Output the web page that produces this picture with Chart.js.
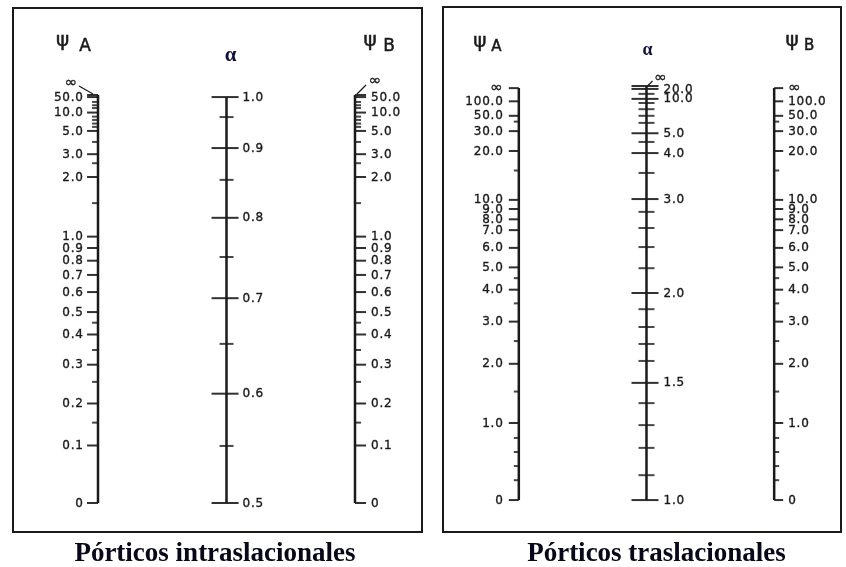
<!DOCTYPE html>
<html>
<head>
<meta charset="utf-8">
<script src="https://cdn.jsdelivr.net/npm/chart.js@4.4.1/dist/chart.umd.min.js"></script>
<style>
    html, body { margin: 0; padding: 0; background: #fff; }
    #wrap { position: relative; width: 846px; height: 567px; overflow: hidden; }
    canvas { position: absolute; top: 0; }
    #braced { left: 0; }
    #sway { left: 433px; }
</style>
</head>
<body>
<div id="wrap">
    <canvas id="braced" width="433" height="567"></canvas>
    <canvas id="sway" width="413" height="567"></canvas>
</div>
<script>
// Nomograph scales. "At" = place of each tick along its axis, 0 (bottom) .. 100 (top end)

// Pórticos intraslacionales
const psiBracedLabels = ['∞', '50.0', '10.0', '5.0', '3.0', '2.0', '1.0', '0.9', '0.8', '0.7', '0.6', '0.5', '0.4', '0.3', '0.2', '0.1', '0'];
const psiBracedAt = [100, 99.5, 95.7, 91.2, 85.5, 79.9, 65.3, 62.5, 59.4, 55.9, 51.7, 46.8, 41.3, 33.9, 24.4, 14.1, 0];
const psiBracedMinorAt = [98.3, 97.5, 96.8, 94.7, 93.9, 93.0, 92.2, 88.5, 83.3, 73.5, 44.2, 37.5, 29.7, 19.7];
const alphaBracedLabels = ['1.0', '0.9', '0.8', '0.7', '0.6', '0.5'];
const alphaBracedAt = [99.5, 87.0, 69.9, 50.2, 26.8, 0];
const alphaBracedMinorAt = [94.6, 79.2, 60.3, 39.0, 14.0];

// Pórticos traslacionales
const psiSwayLabels = ['∞', '100.0', '50.0', '30.0', '20.0', '10.0', '9.0', '8.0', '7.0', '6.0', '5.0', '4.0', '3.0', '2.0', '1.0', '0'];
const psiSwayAt = [99.5, 96.3, 92.8, 89.1, 84.3, 72.5, 70.3, 67.8, 65.2, 60.9, 56.2, 50.8, 43.1, 32.9, 18.6, 0];
const psiSwayMinorAt = [91.4, 79.6, 53.6, 47.5, 38.4, 26.2, 15.0, 11.6, 8.2, 4.8];
const alphaSwayLabels = ['∞', '20.0', '10.0', '5.0', '4.0', '3.0', '2.0', '1.5', '1.0'];
const alphaSwayAt = [100, 99.3, 96.9, 88.6, 83.8, 72.7, 50.0, 28.3, 0];
const alphaSwayMinorAt = [98.1, 95.9, 94.4, 92.8, 91.1, 86.5, 79.0, 69.6, 65.7, 61.1, 56.0, 46.1, 41.8, 37.7, 33.6, 23.4, 18.1, 12.6, 6.0];

const titles = ['Pórticos intraslacionales', 'Pórticos traslacionales'];

const INK = '#1a1a1a';
const LABEL_FONT = '12px "DejaVu Sans"';
const LABEL_SPACING = 0.8;
const INF_FONT = '15px "DejaVu Sans"';

// a tick mark as a point image: line from x-left to x+right
function tickImg(left, right, lw) {
    const half = Math.max(left, right) + 1;
    const c = document.createElement('canvas');
    c.width = half * 2;
    c.height = 4;
    const g = c.getContext('2d');
    g.strokeStyle = INK;
    g.lineWidth = lw;
    g.beginPath();
    g.moveTo(half - left, 2);
    g.lineTo(half + right, 2);
    g.stroke();
    return c;
}

const bracedPanel = {
    title: titles[0],
    titleDx: -2.5,
    padding: { left: 13, right: 11, top: 8, bottom: 35 },
    x: [-0.6615, 2.5214],
    y: [-7.108, 121.32],
    axes: [
        { col: 0, side: 'left', labels: psiBracedLabels, at: psiBracedAt, minor: psiBracedMinorAt,
          major: [11, 0], minorLen: [6, 0], labelDx: -15,
          inf: { dx: -27, dy: -12, leader: [-19, -9, -5, -1] },
          head: { sym: 'ψ', dx: -35.5, dy: -54, sub: 'A', sdx: -13, sdy: -48.5, size: 17 } },
        { col: 1, side: 'right', labels: alphaBracedLabels, at: alphaBracedAt, minor: alphaBracedMinorAt,
          major: [15, 12], minorLen: [7, 7], labelDx: 16,
          head: { alpha: true, dx: 4, dy: -41, size: 21 } },
        { col: 2, side: 'right', labels: psiBracedLabels, at: psiBracedAt, minor: psiBracedMinorAt,
          major: [0, 11], minorLen: [0, 6], labelDx: 16,
          inf: { dx: 20, dy: -14, leader: [11, -10, 2, -1] },
          head: { sym: 'ψ', dx: 15, dy: -54, sub: 'B', sdx: 34, sdy: -48.5, size: 17 } }
    ]
};

const swayPanel = {
    title: titles[1],
    titleDx: 14.5,
    padding: { left: 10, right: 4, top: 7, bottom: 35 },
    x: [-0.59375, 2.5234],
    y: [-7.729, 119.08],
    axes: [
        { col: 0, side: 'left', labels: psiSwayLabels, at: psiSwayAt, minor: psiSwayMinorAt,
          major: [10, 0], minorLen: [5, 0], labelDx: -16,
          head: { sym: 'ψ', dx: -39, dy: -46, sub: 'A', sdx: -22.5, sdy: -41, size: 15 } },
        { col: 1, side: 'right', labels: alphaSwayLabels, at: alphaSwayAt, minor: alphaSwayMinorAt,
          major: [15, 12], minorLen: [8, 8], labelDx: 17,
          inf: { dx: 14, dy: -8, leader: [6, -5, 1, 0] },
          head: { alpha: true, dx: 1, dy: -36, size: 18 } },
        { col: 2, side: 'right', labels: psiSwayLabels, at: psiSwayAt, minor: psiSwayMinorAt,
          major: [0, 9], minorLen: [0, 5], labelDx: 14,
          head: { sym: 'ψ', dx: 18, dy: -47, sub: 'B', sdx: 35, sdy: -41.5, size: 15 } }
    ]
};

// text with a faint outline so it reads as heavy as the scanned lettering
function inkText(ctx, t, x, y) {
    ctx.fillText(t, x, y);
    ctx.strokeText(t, x, y);
}

function makePlugin(panel) {
    return {
        id: 'nomo',
        beforeDraw(chart) {
            const ctx = chart.ctx;
            ctx.save();
            ctx.fillStyle = '#fff';
            ctx.fillRect(0, 0, chart.width, chart.height);
            ctx.restore();
        },
        afterDatasetsDraw(chart) {
            const { ctx, chartArea: a, scales: { x, y } } = chart;
            ctx.save();
            // frame
            ctx.strokeStyle = INK;
            ctx.lineWidth = 2;
            ctx.strokeRect(a.left, a.top, a.right - a.left, a.bottom - a.top);
            ctx.fillStyle = INK;
            ctx.textBaseline = 'middle';

            panel.axes.forEach(ax => {
                const px = x.getPixelForValue(ax.col);
                const topPx = y.getPixelForValue(Math.max(...ax.at));

                // tick labels
                ctx.lineWidth = 0.35;
                ax.labels.forEach((t, i) => {
                    if (t === '∞' && ax.inf) return;
                    const py = y.getPixelForValue(ax.at[i]);
                    let shift = 0;
                    if (t === '∞') {
                        ctx.font = INF_FONT;
                        ctx.letterSpacing = '0px';
                    } else {
                        ctx.font = LABEL_FONT;
                        ctx.letterSpacing = LABEL_SPACING + 'px';
                        if (ax.side === 'left') shift = LABEL_SPACING;
                    }
                    ctx.textAlign = ax.side === 'left' ? 'right' : 'left';
                    inkText(ctx, t, px + ax.labelDx + shift, py + 0.5);
                });

                // infinity with leader line
                if (ax.inf) {
                    const iy = y.getPixelForValue(ax.at[ax.labels.indexOf('∞')]);
                    ctx.font = INF_FONT;
                    ctx.letterSpacing = '0px';
                    ctx.textAlign = 'center';
                    inkText(ctx, '∞', px + ax.inf.dx, iy + ax.inf.dy);
                    const l = ax.inf.leader;
                    ctx.lineWidth = 1.2;
                    ctx.beginPath();
                    ctx.moveTo(px + l[0], iy + l[1]);
                    ctx.lineTo(px + l[2], iy + l[3]);
                    ctx.stroke();
                }

                // axis heading
                const h = ax.head;
                ctx.letterSpacing = '0px';
                ctx.textAlign = 'center';
                ctx.lineWidth = 0.5;
                if (h.alpha) {
                    ctx.font = 'bold ' + h.size + 'px "Liberation Serif"';
                    ctx.fillStyle = '#10103c';
                    ctx.fillText('α', px + h.dx, topPx + h.dy);
                    ctx.fillStyle = INK;
                } else {
                    ctx.font = '20px "DejaVu Sans"';
                    inkText(ctx, h.sym, px + h.dx, topPx + h.dy);
                    ctx.font = h.size + 'px "DejaVu Sans"';
                    inkText(ctx, h.sub, px + h.sdx, topPx + h.sdy);
                }
            });

            // panel caption
            ctx.font = 'bold 27px "Liberation Serif"';
            ctx.fillStyle = '#08081a';
            ctx.textAlign = 'center';
            ctx.textBaseline = 'alphabetic';
            ctx.fillText(panel.title, (a.left + a.right) / 2 + panel.titleDx, a.bottom + 29);
            ctx.restore();
        }
    };
}

function buildPanel(canvasId, panel) {
    const datasets = [];
    panel.axes.forEach(ax => {
        const top = Math.max(...ax.at);
        datasets.push({
            data: [{ x: ax.col, y: 0 }, { x: ax.col, y: top }],
            showLine: true,
            borderColor: INK,
            borderWidth: 2.5,
            borderCapStyle: 'butt',
            pointRadius: 0
        });
        datasets.push({
            data: ax.at.map(v => ({ x: ax.col, y: v })),
            pointStyle: tickImg(ax.major[0], ax.major[1], 1.8),
            pointRadius: 3
        });
        datasets.push({
            data: ax.minor.map(v => ({ x: ax.col, y: v })),
            pointStyle: tickImg(ax.minorLen[0], ax.minorLen[1], 1.6),
            pointRadius: 3
        });
    });

    return new Chart(document.getElementById(canvasId), {
        type: 'scatter',
        data: { datasets: datasets },
        options: {
            responsive: false,
            animation: false,
            events: [],
            layout: { padding: panel.padding },
            scales: {
                x: { type: 'linear', display: false, min: panel.x[0], max: panel.x[1] },
                y: { type: 'linear', display: false, min: panel.y[0], max: panel.y[1] }
            },
            plugins: {
                legend: { display: false },
                tooltip: { enabled: false }
            }
        },
        plugins: [makePlugin(panel)]
    });
}

buildPanel('braced', bracedPanel);
buildPanel('sway', swayPanel);
</script>
</body>
</html>
